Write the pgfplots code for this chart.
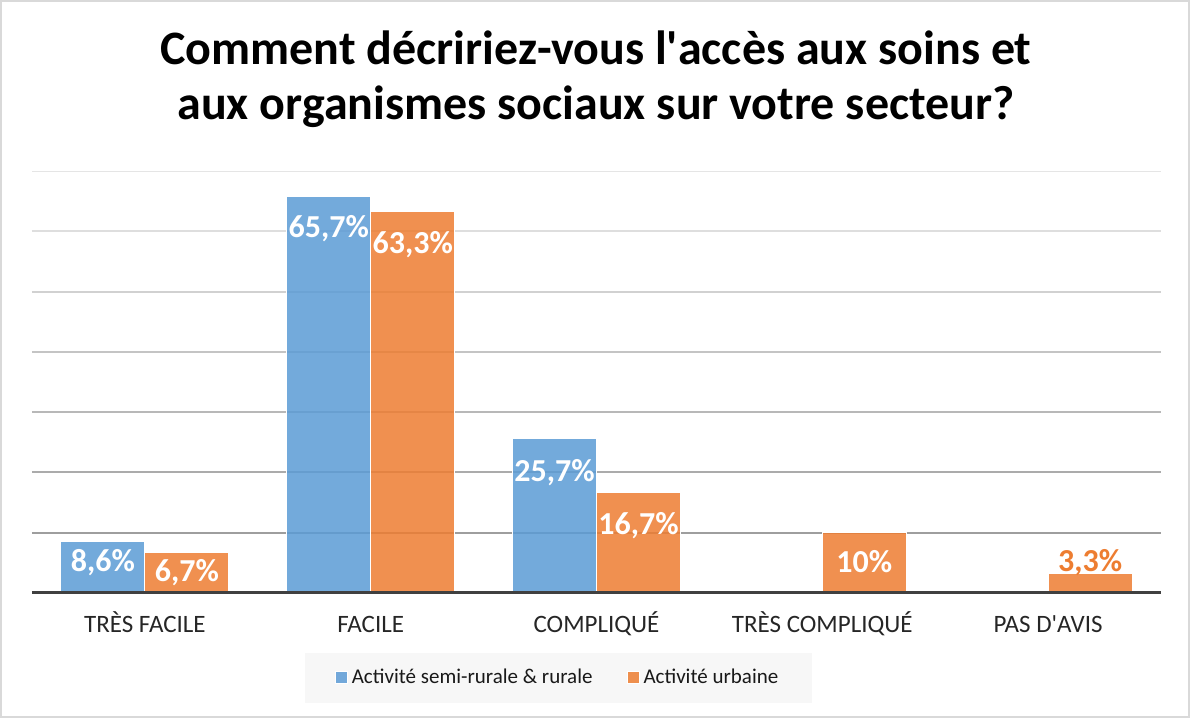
\documentclass[border=0pt]{standalone}
\usepackage{pgfplots}
\usepackage{pgfplotstable}
\pgfplotsset{compat=1.18}
\usepackage{fontspec}
\setmainfont{Carlito}
\definecolor{cblue}{HTML}{5B9BD5}
\definecolor{corange}{HTML}{ED7D31}
\definecolor{frame}{HTML}{D9D9D9}
\definecolor{base}{HTML}{404040}

\pgfplotstableread{
x y dy
0 8.6 -15
1 65.7 -20.5
2 25.7 -21.5
}\rural
\pgfplotstableread{
x y dy
0 6.7 -14.5
1 63.3 -21
2 16.7 -21
3 10 -20
}\urbain
\pgfplotstableread{
x y dy
4 3.3 1
}\urbainb

\begin{document}
\begin{tikzpicture}
\useasboundingbox (-16pt,-62.5pt) rectangle (579pt,296.5pt);
\draw[frame, line width=0.9pt] (-15.4pt,-61.9pt) rectangle (578.4pt,295.9pt);
\begin{axis}[
  scale only axis,
  width=564.5pt, height=211pt,
  xmin=-0.5, xmax=4.5, ymin=0, ymax=70,
  axis x line*=bottom, axis y line=none,
  x axis line style={line width=1.5pt, color=base},
  axis on top,
  xtick={0,1,2,3,4},
  xticklabels={TRÈS FACILE, FACILE, COMPLIQUÉ, TRÈS COMPLIQUÉ, PAS D\textquotesingle AVIS},
  major tick length=0pt,
  xticklabel style={anchor=base, yshift=-20pt, font=\fontsize{12.5}{14}\selectfont, text=black!85},
  ytick=\empty,
  ybar=0pt, bar width=42pt,
  legend style={at={(0.4664,-0.2014)}, anchor=center, draw=none, fill=black!3,
    legend columns=2, font=\fontsize{10.5}{12}\selectfont, text=black!90,
    inner xsep=15pt, inner ysep=6pt,
    /tikz/every even column/.append style={column sep=15pt}},
  legend image code/.code={\fill[#1] (0pt,-3pt) rectangle (6pt,3pt);},
  nodes near coords={\pgfmathprintnumber[use comma,fixed,precision=1,assume math mode=true]{\pgfplotspointmeta}\%},
  visualization depends on={\thisrow{dy} \as \dy},
  every node near coord/.append style={font=\bfseries\fontsize{16}{18}\selectfont, text=white, anchor=base, yshift=\dy pt, fill opacity=1, text opacity=1},
]
\draw[color=black!10, line width=1pt] (axis cs:-0.5,70) -- (axis cs:4.5,70);
\draw[color=black!13, line width=1pt] (axis cs:-0.5,60) -- (axis cs:4.5,60);
\draw[color=black!18, line width=1pt] (axis cs:-0.5,50) -- (axis cs:4.5,50);
\draw[color=black!23, line width=1pt] (axis cs:-0.5,40) -- (axis cs:4.5,40);
\draw[color=black!28, line width=1pt] (axis cs:-0.5,30) -- (axis cs:4.5,30);
\draw[color=black!33, line width=1pt] (axis cs:-0.5,20) -- (axis cs:4.5,20);
\draw[color=black!38, line width=1pt] (axis cs:-0.5,10) -- (axis cs:4.5,10);
\addplot[bar shift=-21pt, fill=cblue, fill opacity=0.85, draw=white, line width=0.5pt] table[x=x,y=y] {\rural};
\addlegendentry{Activité semi-rurale \& rurale}
\addplot[bar shift=21pt, fill=corange, fill opacity=0.85, draw=white, line width=0.5pt] table[x=x,y=y] {\urbain};
\addlegendentry{Activité urbaine}
\addplot[bar shift=21pt, fill=corange, fill opacity=0.85, draw=white, line width=0.5pt, forget plot,
  every node near coord/.append style={text=corange}] table[x=x,y=y] {\urbainb};
\end{axis}
\node[anchor=base, font=\bfseries\fontsize{24}{28}\selectfont] at (282pt,264pt) {Comment décririez-vous l\textquotesingle accès aux soins et};
\node[anchor=base, font=\bfseries\fontsize{24}{28}\selectfont] at (282pt,236.5pt) {aux organismes sociaux sur votre secteur?};
\end{tikzpicture}
\end{document}
